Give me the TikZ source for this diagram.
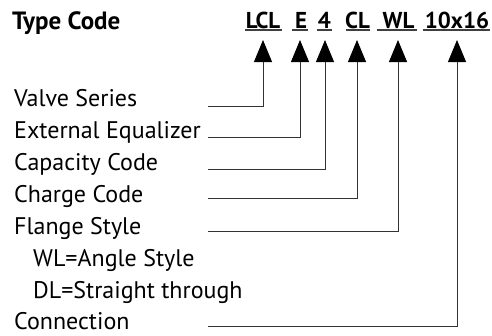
\documentclass[tikz,border=0pt]{standalone}
\usepackage{fontspec}
\setmainfont{PT Sans}
\usetikzlibrary{arrows.meta}
\begin{document}
\begin{tikzpicture}[x=1pt,y=-1pt,
  lbl/.style={anchor=base west,inner sep=0pt,font=\fontsize{24}{28}\selectfont},
  codetok/.style={anchor=base,inner sep=0pt,font=\fontsize{23}{27}\selectfont\bfseries},
  conn/.style={draw=black!80,line width=0.9pt,-{Triangle[width=18pt,length=22pt,fill=black,color=black]}},
  uline/.style={draw=black!75,line width=1.4pt}]
\useasboundingbox (0,0) rectangle (492,335);
\node[anchor=base west,inner sep=0pt,font=\fontsize{25}{29}\selectfont\bfseries] (title) at (12,29) {Type Code};
% code tokens
\node[codetok] (cLCL) at (263,28) {LCL};
\node[codetok] (cE) at (301,28) {E};
\node[codetok] (c4) at (324.5,28) {4};
\node[codetok] (cCL) at (357.5,28) {CL};
\node[codetok] (cWL) at (398.5,28) {WL};
\node[codetok] (c1016) at (457,28) {10x16};
\draw[uline] (245,30) -- (282,30);
\draw[uline] (292,30) -- (308,30);
\draw[uline] (317,30) -- (332,30);
\draw[uline] (346,30) -- (370,30);
\draw[uline] (377,30) -- (417,30);
\draw[uline] (423,30) -- (490,30);
% labels
\node[lbl] (lVS) at (14,106.5) {Valve Series};
\node[lbl] (lEE) at (14,138.5) {External Equalizer};
\node[lbl] (lCC) at (14,170.5) {Capacity Code};
\node[lbl] (lCh) at (14,202.5) {Charge Code};
\node[lbl] (lFS) at (14,234.5) {Flange Style};
\node[lbl] (lWL) at (33,266.5) {WL=Angle Style};
\node[lbl] (lDL) at (33,298) {DL=Straight through};
\node[lbl] (lCo) at (14,329) {Connection};
% connector starts
\coordinate (sVS) at (208,106);
\coordinate (sEE) at (208,137.5);
\coordinate (sCC) at (208,169);
\coordinate (sCh) at (208,198);
\coordinate (sFS) at (208,231);
\coordinate (sCo) at (208,326);
% arrow tips
\coordinate (tLCL) at (263,40);
\coordinate (tE) at (300,40);
\coordinate (t4) at (325,40);
\coordinate (tCL) at (357,40);
\coordinate (tWL) at (398,40);
\coordinate (t1016) at (457,40);
\draw[conn] (sVS) -| (tLCL);
\draw[conn] (sEE) -| (tE);
\draw[conn] (sCC) -| (t4);
\draw[conn] (sCh) -| (tCL);
\draw[conn] (sFS) -| (tWL);
\draw[conn] (sCo) -| (t1016);
\end{tikzpicture}
\end{document}
